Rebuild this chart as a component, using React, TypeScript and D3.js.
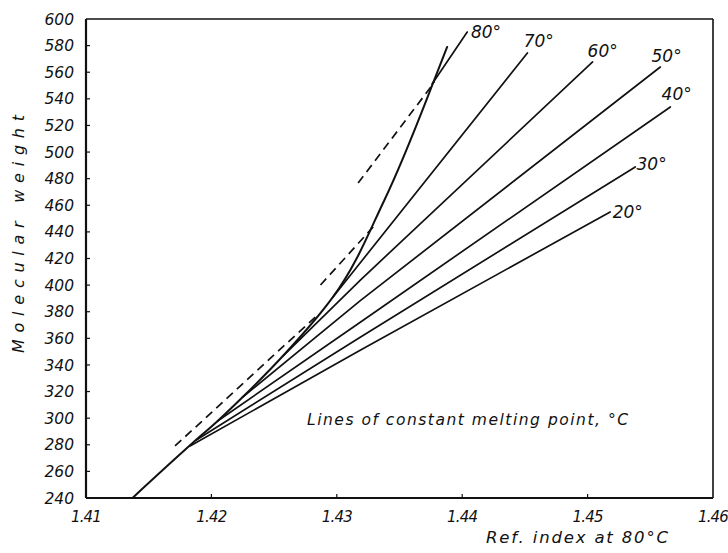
import React from "react";
import * as d3 from "d3";

// Axis ticks
const xTicks = [1.41, 1.42, 1.43, 1.44, 1.45, 1.46];
const yTicks = [240, 260, 280, 300, 320, 340, 360, 380, 400, 420, 440, 460, 480, 500, 520, 540, 560, 580, 600];

// Boundary curve (solid)
const curveX = [1.4137, 1.4185, 1.4205, 1.4225, 1.4257, 1.4297, 1.4338, 1.4379, 1.4388];
const curveY = [240, 281.3, 297.9, 315.9, 346.7, 391.1, 464.0, 557.2, 579.0];

// Lines of constant melting point
const mpNames = ["20°", "30°", "40°", "50°", "60°", "70°", "80°"];
const mp20X = [1.4183, 1.4319, 1.4518];
const mp20Y = [279.1, 351.2, 455.0];
const mp30X = [1.4188, 1.4319, 1.4538];
const mp30Y = [283.6, 361.0, 488.8];
const mp40X = [1.4205, 1.4319, 1.4566];
const mp40Y = [297.9, 372.3, 533.9];
const mp50X = [1.4225, 1.4319, 1.4558];
const mp50Y = [315.9, 388.5, 563.9];
const mp60X = [1.4257, 1.4319, 1.4504];
const mp60Y = [346.7, 404.0, 567.7];
const mp70X = [1.4297, 1.4452];
const mp70Y = [391.1, 574.5];
const mp80X = [1.4376, 1.4404];
const mp80Y = [551.2, 590.2];
// label anchors (data coordinates)
const mpLabelX = [1.4520, 1.4539, 1.4559, 1.4551, 1.4500, 1.4449, 1.4407];
const mpLabelY = [450.4, 486.5, 539.1, 567.7, 571.4, 579.0, 585.7];

// Dashed lines
const dash1X = [1.4171, 1.4284];
const dash1Y = [279.1, 377.0];
const dash2X = [1.4287, 1.4329];
const dash2Y = [400.1, 443.7];
const dash3X = [1.4317, 1.4378];
const dash3Y = [476.7, 552.7];

const W = 728;
const H = 553;
const FONT = "'DejaVu Sans', 'Liberation Sans', sans-serif";

export default function App() {
  const x = d3.scaleLinear().domain([1.41, 1.46]).range([86, 713]);
  const y = d3.scaleLinear().domain([240, 600]).range([498, 19]);

  const zip = (xs: number[], ys: number[]) => xs.map((v, i) => [v, ys[i]] as [number, number]);
  const smooth = d3
    .line<[number, number]>()
    .x((d) => x(d[0]))
    .y((d) => y(d[1]))
    .curve(d3.curveMonotoneY);
  const straight = d3
    .line<[number, number]>()
    .x((d) => x(d[0]))
    .y((d) => y(d[1]));

  const mpLines = [
    zip(mp20X, mp20Y),
    zip(mp30X, mp30Y),
    zip(mp40X, mp40Y),
    zip(mp50X, mp50Y),
    zip(mp60X, mp60Y),
    zip(mp70X, mp70Y),
    zip(mp80X, mp80Y),
  ];
  const dashes = [zip(dash1X, dash1Y), zip(dash2X, dash2Y), zip(dash3X, dash3Y)];

  const [x0, x1] = x.range();
  const [y0, y1] = y.range();

  return (
    <svg
      width={W}
      height={H}
      style={{ position: "absolute", left: 0, top: 0, background: "#fff" }}
      fontFamily={FONT}
    >
      <rect x={0} y={0} width={W} height={H} fill="#fff" />
      {/* frame */}
      <line x1={x0} x2={x1} y1={y1} y2={y1} stroke="#111" strokeWidth={1.6} />
      <line x1={x1} x2={x1} y1={y1} y2={y0} stroke="#111" strokeWidth={1.6} />
      <line x1={x0} x2={x1} y1={y0} y2={y0} stroke="#111" strokeWidth={2.2} />
      <line x1={x0} x2={x0} y1={y1} y2={y0} stroke="#111" strokeWidth={2.2} />

      {/* y ticks */}
      {yTicks.map((t) => (
        <g key={"y" + t}>
          {t !== 240 && t !== 600 && (
            <line x1={x0} x2={x0 + 4} y1={y(t)} y2={y(t)} stroke="#111" strokeWidth={1.2} />
          )}
          <text
            x={74}
            y={y(t)}
            dy="0.36em"
            textAnchor="end"
            fontSize={15.5}
            fontStyle="italic"
            fill="#111"
          >
            {t}
          </text>
        </g>
      ))}

      {/* x ticks */}
      {xTicks.map((t) => (
        <g key={"x" + t}>
          {t !== 1.41 && t !== 1.46 && (
            <line x1={x(t)} x2={x(t)} y1={y0} y2={y0 - 4} stroke="#111" strokeWidth={1.2} />
          )}
          <text
            x={x(t)}
            y={522}
            textAnchor="middle"
            fontSize={15}
            fontStyle="italic"
            letterSpacing={-0.8}
            fill="#111"
          >
            {d3.format(".2f")(t)}
          </text>
        </g>
      ))}

      {/* axis titles */}
      <text
        x={486}
        y={543}
        fontSize={16.5}
        fontStyle="italic"
        textLength={182}
        lengthAdjust="spacing"
        fill="#111"
      >
        Ref. index at 80°C
      </text>
      <text
        transform={`translate(24, ${234}) rotate(-90)`}
        textAnchor="middle"
        fontSize={16}
        fontStyle="italic"
        textLength={238}
        lengthAdjust="spacing"
        fill="#111"
      >
        Molecular weight
      </text>

      {/* annotation */}
      <text
        x={307}
        y={425}
        fontSize={15.5}
        fontStyle="italic"
        textLength={321}
        lengthAdjust="spacing"
        fill="#111"
      >
        Lines of constant melting point, °C
      </text>

      {/* boundary curve */}
      <path
        d={smooth(zip(curveX, curveY)) || ""}
        fill="none"
        stroke="#111"
        strokeWidth={2}
        strokeLinecap="round"
      />

      {/* constant melting point lines */}
      {mpLines.map((pts, i) => (
        <path
          key={"mp" + i}
          d={straight(pts) || ""}
          fill="none"
          stroke="#111"
          strokeWidth={1.7}
          strokeLinecap="round"
          strokeLinejoin="round"
        />
      ))}

      {/* dashed lines */}
      {dashes.map((pts, i) => (
        <path
          key={"d" + i}
          d={straight(pts) || ""}
          fill="none"
          stroke="#111"
          strokeWidth={1.7}
          strokeDasharray="8.5 5.5"
        />
      ))}

      {/* labels */}
      {mpNames.map((n, i) => (
        <text
          key={"l" + i}
          x={x(mpLabelX[i])}
          y={y(mpLabelY[i])}
          fontSize={17}
          fontStyle="italic"
          fill="#111"
        >
          {n}
        </text>
      ))}
    </svg>
  );
}
